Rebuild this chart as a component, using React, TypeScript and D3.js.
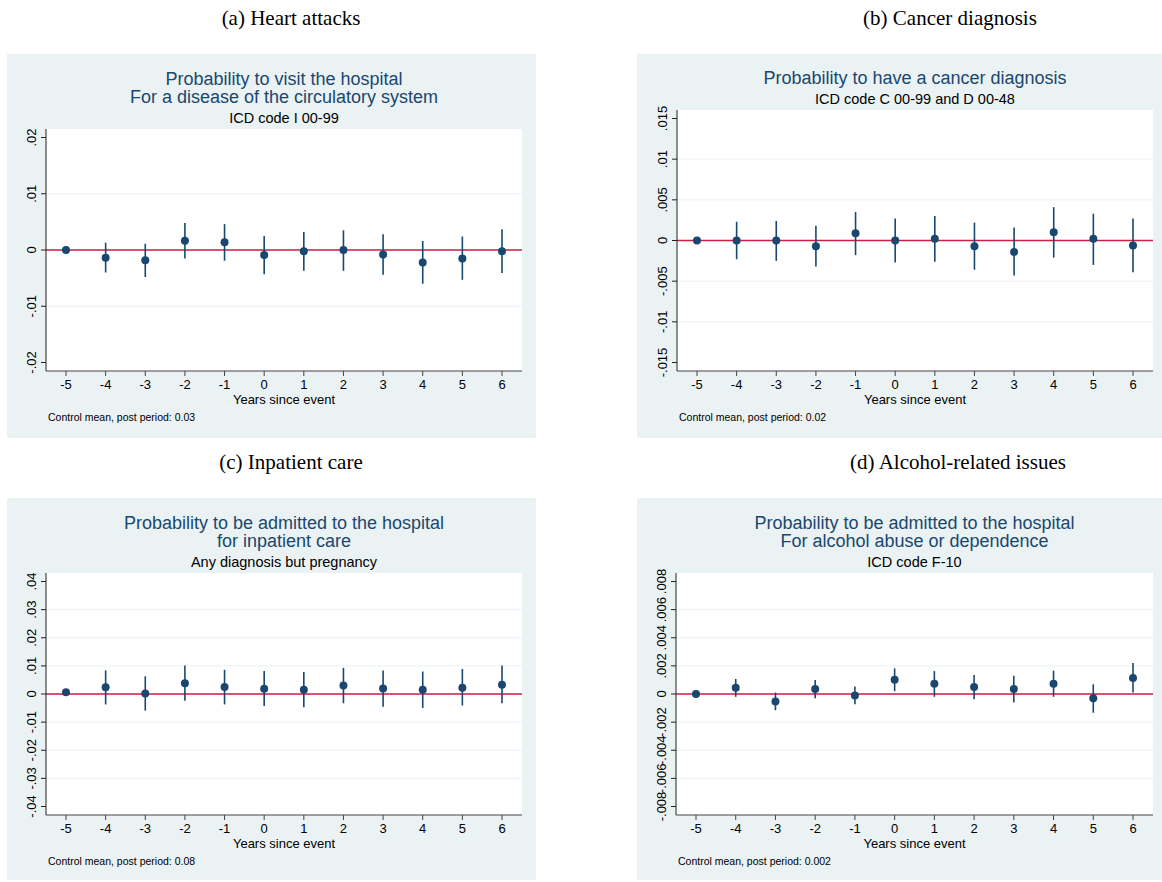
import React, { useEffect, useRef } from "react";
import * as d3 from "d3";

// event-time categories shared by all four panels
const years = [-5, -4, -3, -2, -1, 0, 1, 2, 3, 4, 5, 6];

// (a) Heart attacks
const heartEst = [0, -0.00136, -0.0018, 0.00166, 0.00136, -0.0009, -0.0002, 0, -0.0008, -0.0022, -0.0015, -0.0002];
const heartLo = [0, -0.004, -0.0048, -0.0015, -0.0019, -0.0043, -0.0037, -0.0037, -0.0044, -0.006, -0.0053, -0.0041];
const heartHi = [0, 0.0013, 0.0011, 0.0048, 0.0046, 0.0025, 0.0032, 0.0035, 0.0028, 0.0016, 0.0024, 0.0037];
const heartTicks = [0.02, 0.01, 0, -0.01, -0.02];
const heartTickLabels = [".02", ".01", "0", "-.01", "-.02"];

// (b) Cancer diagnosis
const cancerEst = [0, 0, 0, -0.0007, 0.0009, 0, 0.0002, -0.0007, -0.0014, 0.001, 0.0002, -0.0006];
const cancerLo = [0, -0.0023, -0.0025, -0.0032, -0.0018, -0.0027, -0.0026, -0.0036, -0.0043, -0.0021, -0.003, -0.0039];
const cancerHi = [0, 0.0023, 0.0024, 0.0018, 0.0035, 0.0027, 0.003, 0.0022, 0.0016, 0.0041, 0.0033, 0.0027];
const cancerTicks = [0.015, 0.01, 0.005, 0, -0.005, -0.01, -0.015];
const cancerTickLabels = [".015", ".01", ".005", "0", "-.005", "-.01", "-.015"];

// (c) Inpatient care
const inpatEst = [0.0006, 0.0024, 0.0002, 0.0038, 0.0025, 0.0019, 0.0015, 0.003, 0.002, 0.0015, 0.0022, 0.0033];
const inpatLo = [0.0006, -0.0037, -0.0059, -0.0024, -0.0037, -0.0043, -0.0047, -0.0033, -0.0045, -0.005, -0.0041, -0.0033];
const inpatHi = [0.0006, 0.0084, 0.0063, 0.0101, 0.0086, 0.0082, 0.0078, 0.0093, 0.0084, 0.008, 0.0089, 0.0101];
const inpatTicks = [0.04, 0.03, 0.02, 0.01, 0, -0.01, -0.02, -0.03, -0.04];
const inpatTickLabels = [".04", ".03", ".02", ".01", "0", "-.01", "-.02", "-.03", "-.04"];

// (d) Alcohol-related issues
const alcoEst = [0, 0.00045, -0.00054, 0.00036, -0.0001, 0.00102, 0.00073, 0.0005, 0.00036, 0.00073, -0.0003, 0.00114];
const alcoLo = [0, -0.0002, -0.00116, -0.0003, -0.00073, 0.0002, -0.0002, -0.00038, -0.0006, -0.0002, -0.00133, 0.0001];
const alcoHi = [0, 0.00107, 0.0001, 0.001, 0.00054, 0.00182, 0.00163, 0.00135, 0.0013, 0.00166, 0.00069, 0.0022];
const alcoTicks = [0.008, 0.006, 0.004, 0.002, 0, -0.002, -0.004, -0.006, -0.008];
const alcoTickLabels = [".008", ".006", ".004", ".002", "0", "-.002", "-.004", "-.006", "-.008"];

const BG = "#eaf2f3";
const NAVY = "#1a476f";
const SANS = "'Liberation Sans', Arial, sans-serif";

const panels = [
  {
    caption: "(a) Heart attacks", capX: 291, capY: 25,
    bg: [7, 54, 529, 384], left: 46, right: 522, top: 129, axisY: 371,
    title: ["Probability to visit the hospital", "For a disease of the circulatory system"],
    subtitle: "ICD code I 00-99", note: "Control mean, post period: 0.03",
    est: heartEst, lo: heartLo, hi: heartHi, ticks: heartTicks, tickLabels: heartTickLabels,
  },
  {
    caption: "(b) Cancer diagnosis", capX: 950, capY: 25,
    bg: [637, 54, 525, 384], left: 677, right: 1153, top: 110, axisY: 371,
    title: ["Probability to have a cancer diagnosis"],
    subtitle: "ICD code C 00-99 and D 00-48", note: "Control mean, post period: 0.02",
    est: cancerEst, lo: cancerLo, hi: cancerHi, ticks: cancerTicks, tickLabels: cancerTickLabels,
  },
  {
    caption: "(c) Inpatient care", capX: 291, capY: 469,
    bg: [7, 498, 529, 382], left: 46, right: 522, top: 573, axisY: 815,
    title: ["Probability to be admitted to the hospital", "for inpatient care"],
    subtitle: "Any diagnosis but pregnancy", note: "Control mean, post period: 0.08",
    est: inpatEst, lo: inpatLo, hi: inpatHi, ticks: inpatTicks, tickLabels: inpatTickLabels,
  },
  {
    caption: "(d) Alcohol-related issues", capX: 958, capY: 469,
    bg: [637, 498, 525, 382], left: 676, right: 1153, top: 573, axisY: 815,
    title: ["Probability to be admitted to the hospital", "For alcohol abuse or dependence"],
    subtitle: "ICD code F-10", note: "Control mean, post period: 0.002",
    est: alcoEst, lo: alcoLo, hi: alcoHi, ticks: alcoTicks, tickLabels: alcoTickLabels,
  },
];

const App = () => {
  const ref = useRef<SVGSVGElement | null>(null);

  useEffect(() => {
    if (!ref.current) return;
    const svg = d3.select(ref.current);
    svg.selectAll("*").remove();

    panels.forEach((p) => {
      const g = svg.append("g");

      // caption above each graph (LaTeX style)
      svg
        .append("text")
        .attr("x", p.capX)
        .attr("y", p.capY)
        .attr("text-anchor", "middle")
        .style("font-family", "'Liberation Serif', 'DejaVu Serif', serif")
        .style("font-size", "21px")
        .text(p.caption);

      g.append("rect")
        .attr("x", p.bg[0])
        .attr("y", p.bg[1])
        .attr("width", p.bg[2])
        .attr("height", p.bg[3])
        .attr("fill", BG);

      g.append("rect")
        .attr("x", p.left)
        .attr("y", p.top)
        .attr("width", p.right - p.left)
        .attr("height", p.axisY - p.top)
        .attr("fill", "#fff");

      const x = d3
        .scaleLinear()
        .domain([d3.min(years)!, d3.max(years)!])
        .range([p.left + 20, p.right - 20]);

      const y = d3
        .scaleLinear()
        .domain([d3.min(p.ticks)!, d3.max(p.ticks)!])
        .range([p.axisY - 8.5, p.top + 8.5]);

      // interior gridlines
      g.selectAll(".grid")
        .data(p.ticks.slice(1, -1))
        .enter()
        .append("line")
        .attr("x1", p.left)
        .attr("x2", p.right)
        .attr("y1", (d) => y(d))
        .attr("y2", (d) => y(d))
        .attr("stroke", BG)
        .attr("stroke-width", 1);

      // reference line at zero
      g.append("line")
        .attr("x1", p.left)
        .attr("x2", p.right)
        .attr("y1", y(0))
        .attr("y2", y(0))
        .attr("stroke", "#cf1d44")
        .attr("stroke-width", 1.6);

      // y axis
      g.append("line")
        .attr("x1", p.left)
        .attr("x2", p.left)
        .attr("y1", p.top)
        .attr("y2", p.axisY)
        .attr("stroke", "#222")
        .attr("stroke-width", 1);

      p.ticks.forEach((t, i) => {
        g.append("line")
          .attr("x1", p.left - 5)
          .attr("x2", p.left)
          .attr("y1", y(t))
          .attr("y2", y(t))
          .attr("stroke", "#222");
        g.append("text")
          .attr("transform", `translate(${p.left - 10},${y(t)}) rotate(-90)`)
          .attr("text-anchor", "middle")
          .style("font-family", SANS)
          .style("font-size", "13px")
          .text(p.tickLabels[i]);
      });

      // x axis
      g.append("line")
        .attr("x1", p.left)
        .attr("x2", p.right)
        .attr("y1", p.axisY)
        .attr("y2", p.axisY)
        .attr("stroke", "#444")
        .attr("stroke-width", 1);

      years.forEach((yr) => {
        g.append("line")
          .attr("x1", x(yr))
          .attr("x2", x(yr))
          .attr("y1", p.axisY)
          .attr("y2", p.axisY + 5)
          .attr("stroke", "#444");
        g.append("text")
          .attr("x", x(yr))
          .attr("y", p.axisY + 18)
          .attr("text-anchor", "middle")
          .style("font-family", SANS)
          .style("font-size", "13px")
          .text(yr);
      });

      const cx = (p.left + p.right) / 2;

      g.append("text")
        .attr("x", cx)
        .attr("y", p.axisY + 33)
        .attr("text-anchor", "middle")
        .style("font-family", SANS)
        .style("font-size", "13px")
        .text("Years since event");

      g.append("text")
        .attr("x", p.left + 2)
        .attr("y", p.axisY + 50)
        .style("font-family", SANS)
        .style("font-size", "10.5px")
        .text(p.note);

      // titles
      const subY = p.top - 6;
      g.append("text")
        .attr("x", cx)
        .attr("y", subY)
        .attr("text-anchor", "middle")
        .style("font-family", SANS)
        .style("font-size", "14.5px")
        .text(p.subtitle);

      p.title.forEach((line, i) => {
        g.append("text")
          .attr("x", cx)
          .attr("y", subY - 20 - (p.title.length - 1 - i) * 18.5)
          .attr("text-anchor", "middle")
          .attr("fill", NAVY)
          .style("font-family", SANS)
          .style("font-size", "18px")
          .text(line);
      });

      // confidence intervals
      g.selectAll(".ci")
        .data(years)
        .enter()
        .append("line")
        .attr("x1", (d) => x(d))
        .attr("x2", (d) => x(d))
        .attr("y1", (d, i) => y(p.lo[i]))
        .attr("y2", (d, i) => y(p.hi[i]))
        .attr("stroke", NAVY)
        .attr("stroke-width", 1.6);

      // point estimates
      g.selectAll(".pt")
        .data(years)
        .enter()
        .append("circle")
        .attr("cx", (d) => x(d))
        .attr("cy", (d, i) => y(p.est[i]))
        .attr("r", 4)
        .attr("fill", NAVY);
    });
  }, []);

  return (
    <svg
      ref={ref}
      width={1162}
      height={882}
      style={{ position: "absolute", left: 0, top: 0, background: "#fff" }}
    />
  );
};

export default App;
